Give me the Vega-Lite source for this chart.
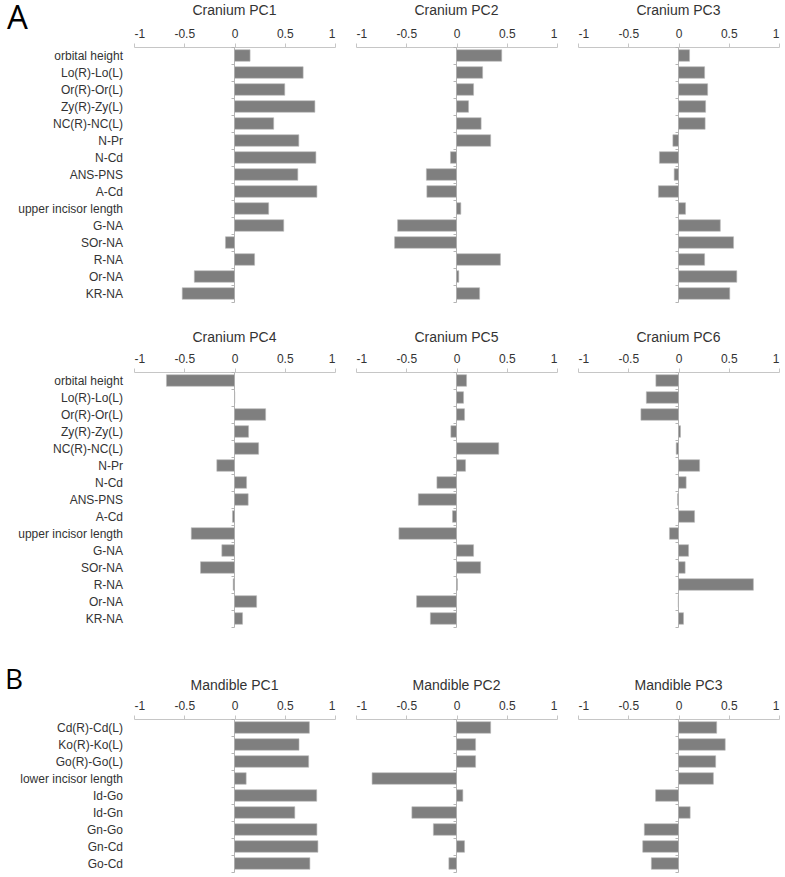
{
  "$schema": "https://vega.github.io/schema/vega-lite/v6.json",
  "padding": 0,
  "background": "white",
  "config": {
    "view": {"stroke": null},
    "title": {"font": "Liberation Sans", "fontSize": 14, "fontWeight": "normal", "color": "#333333", "anchor": "middle", "frame": "group"},
    "style": {"group-title": {"font": "Liberation Sans", "fontSize": 14, "fontWeight": "normal", "fill": "#333333"}},
    "bar": {"fill": "#7f7f7f", "stroke": "#b8b8b8", "strokeWidth": 0.6},
    "axis": {"grid": false}
  },
  "datasets": {
    "c1": [
      {"measure": "orbital height", "loading": 0.155}, {"measure": "Lo(R)-Lo(L)", "loading": 0.683}, {"measure": "Or(R)-Or(L)", "loading": 0.50},
      {"measure": "Zy(R)-Zy(L)", "loading": 0.80}, {"measure": "NC(R)-NC(L)", "loading": 0.39}, {"measure": "N-Pr", "loading": 0.64},
      {"measure": "N-Cd", "loading": 0.81}, {"measure": "ANS-PNS", "loading": 0.63}, {"measure": "A-Cd", "loading": 0.82},
      {"measure": "upper incisor length", "loading": 0.34}, {"measure": "G-NA", "loading": 0.49}, {"measure": "SOr-NA", "loading": -0.09},
      {"measure": "R-NA", "loading": 0.20}, {"measure": "Or-NA", "loading": -0.40}, {"measure": "KR-NA", "loading": -0.52}
    ],
    "c2": [
      {"measure": "orbital height", "loading": 0.45}, {"measure": "Lo(R)-Lo(L)", "loading": 0.26}, {"measure": "Or(R)-Or(L)", "loading": 0.17},
      {"measure": "Zy(R)-Zy(L)", "loading": 0.12}, {"measure": "NC(R)-NC(L)", "loading": 0.245}, {"measure": "N-Pr", "loading": 0.34},
      {"measure": "N-Cd", "loading": -0.06}, {"measure": "ANS-PNS", "loading": -0.30}, {"measure": "A-Cd", "loading": -0.295},
      {"measure": "upper incisor length", "loading": 0.043}, {"measure": "G-NA", "loading": -0.586}, {"measure": "SOr-NA", "loading": -0.616},
      {"measure": "R-NA", "loading": 0.437}, {"measure": "Or-NA", "loading": 0.023}, {"measure": "KR-NA", "loading": 0.23}
    ],
    "c3": [
      {"measure": "orbital height", "loading": 0.11}, {"measure": "Lo(R)-Lo(L)", "loading": 0.26}, {"measure": "Or(R)-Or(L)", "loading": 0.29},
      {"measure": "Zy(R)-Zy(L)", "loading": 0.27}, {"measure": "NC(R)-NC(L)", "loading": 0.265}, {"measure": "N-Pr", "loading": -0.056},
      {"measure": "N-Cd", "loading": -0.19}, {"measure": "ANS-PNS", "loading": -0.043}, {"measure": "A-Cd", "loading": -0.20},
      {"measure": "upper incisor length", "loading": 0.07}, {"measure": "G-NA", "loading": 0.416}, {"measure": "SOr-NA", "loading": 0.548},
      {"measure": "R-NA", "loading": 0.26}, {"measure": "Or-NA", "loading": 0.58}, {"measure": "KR-NA", "loading": 0.51}
    ],
    "c4": [
      {"measure": "orbital height", "loading": -0.677}, {"measure": "Lo(R)-Lo(L)", "loading": 0.003}, {"measure": "Or(R)-Or(L)", "loading": 0.31},
      {"measure": "Zy(R)-Zy(L)", "loading": 0.14}, {"measure": "NC(R)-NC(L)", "loading": 0.24}, {"measure": "N-Pr", "loading": -0.176},
      {"measure": "N-Cd", "loading": 0.12}, {"measure": "ANS-PNS", "loading": 0.136}, {"measure": "A-Cd", "loading": -0.02},
      {"measure": "upper incisor length", "loading": -0.43}, {"measure": "G-NA", "loading": -0.126}, {"measure": "SOr-NA", "loading": -0.338},
      {"measure": "R-NA", "loading": -0.013}, {"measure": "Or-NA", "loading": 0.22}, {"measure": "KR-NA", "loading": 0.08}
    ],
    "c5": [
      {"measure": "orbital height", "loading": 0.10}, {"measure": "Lo(R)-Lo(L)", "loading": 0.07}, {"measure": "Or(R)-Or(L)", "loading": 0.08},
      {"measure": "Zy(R)-Zy(L)", "loading": -0.056}, {"measure": "NC(R)-NC(L)", "loading": 0.42}, {"measure": "N-Pr", "loading": 0.09},
      {"measure": "N-Cd", "loading": -0.195}, {"measure": "ANS-PNS", "loading": -0.38}, {"measure": "A-Cd", "loading": -0.04},
      {"measure": "upper incisor length", "loading": -0.573}, {"measure": "G-NA", "loading": 0.17}, {"measure": "SOr-NA", "loading": 0.24},
      {"measure": "R-NA", "loading": 0.01}, {"measure": "Or-NA", "loading": -0.397}, {"measure": "KR-NA", "loading": -0.26}
    ],
    "c6": [
      {"measure": "orbital height", "loading": -0.225}, {"measure": "Lo(R)-Lo(L)", "loading": -0.32}, {"measure": "Or(R)-Or(L)", "loading": -0.374},
      {"measure": "Zy(R)-Zy(L)", "loading": 0.02}, {"measure": "NC(R)-NC(L)", "loading": -0.023}, {"measure": "N-Pr", "loading": 0.21},
      {"measure": "N-Cd", "loading": 0.076}, {"measure": "ANS-PNS", "loading": -0.01}, {"measure": "A-Cd", "loading": 0.16},
      {"measure": "upper incisor length", "loading": -0.09}, {"measure": "G-NA", "loading": 0.10}, {"measure": "SOr-NA", "loading": 0.066},
      {"measure": "R-NA", "loading": 0.745}, {"measure": "Or-NA", "loading": -0.003}, {"measure": "KR-NA", "loading": 0.05}
    ],
    "m1": [
      {"measure": "Cd(R)-Cd(L)", "loading": 0.745}, {"measure": "Ko(R)-Ko(L)", "loading": 0.642}, {"measure": "Go(R)-Go(L)", "loading": 0.738},
      {"measure": "lower incisor length", "loading": 0.116}, {"measure": "Id-Go", "loading": 0.818}, {"measure": "Id-Gn", "loading": 0.60},
      {"measure": "Gn-Go", "loading": 0.82}, {"measure": "Gn-Cd", "loading": 0.83}, {"measure": "Go-Cd", "loading": 0.75}
    ],
    "m2": [
      {"measure": "Cd(R)-Cd(L)", "loading": 0.34}, {"measure": "Ko(R)-Ko(L)", "loading": 0.19}, {"measure": "Go(R)-Go(L)", "loading": 0.19},
      {"measure": "lower incisor length", "loading": -0.84}, {"measure": "Id-Go", "loading": 0.063}, {"measure": "Id-Gn", "loading": -0.444},
      {"measure": "Gn-Go", "loading": -0.23}, {"measure": "Gn-Cd", "loading": 0.08}, {"measure": "Go-Cd", "loading": -0.076}
    ],
    "m3": [
      {"measure": "Cd(R)-Cd(L)", "loading": 0.38}, {"measure": "Ko(R)-Ko(L)", "loading": 0.465}, {"measure": "Go(R)-Go(L)", "loading": 0.37},
      {"measure": "lower incisor length", "loading": 0.347}, {"measure": "Id-Go", "loading": -0.228}, {"measure": "Id-Gn", "loading": 0.116},
      {"measure": "Gn-Go", "loading": -0.34}, {"measure": "Gn-Cd", "loading": -0.356}, {"measure": "Go-Cd", "loading": -0.27}
    ]
  },
  "vconcat": [
    {
      "hconcat": [
        {
          "width": 201, "height": 255, "data": {"name": "c1"},
          "title": {"text": "Cranium PC1", "offset": -18, "fontWeight": "normal", "fontSize": 14, "font": "Liberation Sans", "color": "#333333"},
          "mark": {"type": "bar", "height": {"band": 0.68}},
          "encoding": {
            "x": {"field": "loading", "type": "quantitative", "scale": {"domain": [-1, 1], "nice": false, "zero": false},
              "axis": {"orient": "top", "title": null, "values": [-1, -0.5, 0, 0.5, 1], "labelExpr": "'' + datum.value", "minExtent": 47, "maxExtent": 47, "domainColor": "#c6c6c6", "tickColor": "#c6c6c6", "tickSize": 4, "labelPadding": 3, "labelFont": "Liberation Sans", "labelFontSize": 12, "labelColor": "#333333"}},
            "y": {"field": "measure", "type": "nominal", "sort": null, "scale": {"paddingInner": 0, "paddingOuter": 0},
              "axis": {"title": "A", "titleAngle": 0, "titleAlign": "left", "titleBaseline": "alphabetic", "titleX": -227.5, "titleY": -18.7, "titleFont": "Open Sans", "titleFontSize": 33, "titleFontWeight": "normal", "titleColor": "#000000", "offset": -100, "minExtent": 233.5, "maxExtent": 233.5, "domainColor": "#b4b4b4", "tickColor": "#b4b4b4", "tickSize": 3, "tickBand": "extent", "labelPadding": 108.5, "labelFont": "Liberation Sans", "labelFontSize": 12, "labelColor": "#333333"}}
          }
        },
        {
          "width": 201, "height": 255, "data": {"name": "c2"},
          "title": {"text": "Cranium PC2", "offset": -18, "fontWeight": "normal", "fontSize": 14, "font": "Liberation Sans", "color": "#333333"},
          "mark": {"type": "bar", "height": {"band": 0.68}},
          "encoding": {
            "x": {"field": "loading", "type": "quantitative", "scale": {"domain": [-1, 1], "nice": false, "zero": false},
              "axis": {"orient": "top", "title": null, "values": [-1, -0.5, 0, 0.5, 1], "labelExpr": "'' + datum.value", "minExtent": 47, "maxExtent": 47, "domainColor": "#c6c6c6", "tickColor": "#c6c6c6", "tickSize": 4, "labelPadding": 3, "labelFont": "Liberation Sans", "labelFontSize": 12, "labelColor": "#333333"}},
            "y": {"field": "measure", "type": "nominal", "sort": null, "scale": {"paddingInner": 0, "paddingOuter": 0},
              "axis": {"title": null, "labels": false, "offset": -100, "minExtent": 0, "maxExtent": 10, "domainColor": "#b4b4b4", "tickColor": "#b4b4b4", "tickSize": 3, "tickBand": "extent"}}
          }
        },
        {
          "width": 201, "height": 255, "data": {"name": "c3"},
          "title": {"text": "Cranium PC3", "offset": -18, "fontWeight": "normal", "fontSize": 14, "font": "Liberation Sans", "color": "#333333"},
          "mark": {"type": "bar", "height": {"band": 0.68}},
          "encoding": {
            "x": {"field": "loading", "type": "quantitative", "scale": {"domain": [-1, 1], "nice": false, "zero": false},
              "axis": {"orient": "top", "title": null, "values": [-1, -0.5, 0, 0.5, 1], "labelExpr": "'' + datum.value", "minExtent": 47, "maxExtent": 47, "domainColor": "#c6c6c6", "tickColor": "#c6c6c6", "tickSize": 4, "labelPadding": 3, "labelFont": "Liberation Sans", "labelFontSize": 12, "labelColor": "#333333"}},
            "y": {"field": "measure", "type": "nominal", "sort": null, "scale": {"paddingInner": 0, "paddingOuter": 0},
              "axis": {"title": null, "labels": false, "offset": -100, "minExtent": 0, "maxExtent": 10, "domainColor": "#b4b4b4", "tickColor": "#b4b4b4", "tickSize": 3, "tickBand": "extent"}}
          }
        }
      ],
      "spacing": 21, "bounds": "flush"
    },
    {
      "hconcat": [
        {
          "width": 201, "height": 255, "data": {"name": "c4"},
          "title": {"text": "Cranium PC4", "offset": -31.7, "fontWeight": "normal", "fontSize": 14, "font": "Liberation Sans", "color": "#333333"},
          "mark": {"type": "bar", "height": {"band": 0.68}},
          "encoding": {
            "x": {"field": "loading", "type": "quantitative", "scale": {"domain": [-1, 1], "nice": false, "zero": false},
              "axis": {"orient": "top", "title": null, "values": [-1, -0.5, 0, 0.5, 1], "labelExpr": "'' + datum.value", "minExtent": 59, "maxExtent": 59, "domainColor": "#c6c6c6", "tickColor": "#c6c6c6", "tickSize": 4, "labelPadding": 3, "labelFont": "Liberation Sans", "labelFontSize": 12, "labelColor": "#333333"}},
            "y": {"field": "measure", "type": "nominal", "sort": null, "scale": {"paddingInner": 0, "paddingOuter": 0},
              "axis": {"title": null, "offset": -100, "minExtent": 233.5, "maxExtent": 233.5, "domainColor": "#b4b4b4", "tickColor": "#b4b4b4", "tickSize": 3, "tickBand": "extent", "labelPadding": 108.5, "labelFont": "Liberation Sans", "labelFontSize": 12, "labelColor": "#333333"}}
          }
        },
        {
          "width": 201, "height": 255, "data": {"name": "c5"},
          "title": {"text": "Cranium PC5", "offset": -31.7, "fontWeight": "normal", "fontSize": 14, "font": "Liberation Sans", "color": "#333333"},
          "mark": {"type": "bar", "height": {"band": 0.68}},
          "encoding": {
            "x": {"field": "loading", "type": "quantitative", "scale": {"domain": [-1, 1], "nice": false, "zero": false},
              "axis": {"orient": "top", "title": null, "values": [-1, -0.5, 0, 0.5, 1], "labelExpr": "'' + datum.value", "minExtent": 59, "maxExtent": 59, "domainColor": "#c6c6c6", "tickColor": "#c6c6c6", "tickSize": 4, "labelPadding": 3, "labelFont": "Liberation Sans", "labelFontSize": 12, "labelColor": "#333333"}},
            "y": {"field": "measure", "type": "nominal", "sort": null, "scale": {"paddingInner": 0, "paddingOuter": 0},
              "axis": {"title": null, "labels": false, "offset": -100, "minExtent": 0, "maxExtent": 10, "domainColor": "#b4b4b4", "tickColor": "#b4b4b4", "tickSize": 3, "tickBand": "extent"}}
          }
        },
        {
          "width": 201, "height": 255, "data": {"name": "c6"},
          "title": {"text": "Cranium PC6", "offset": -31.7, "fontWeight": "normal", "fontSize": 14, "font": "Liberation Sans", "color": "#333333"},
          "mark": {"type": "bar", "height": {"band": 0.68}},
          "encoding": {
            "x": {"field": "loading", "type": "quantitative", "scale": {"domain": [-1, 1], "nice": false, "zero": false},
              "axis": {"orient": "top", "title": null, "values": [-1, -0.5, 0, 0.5, 1], "labelExpr": "'' + datum.value", "minExtent": 59, "maxExtent": 59, "domainColor": "#c6c6c6", "tickColor": "#c6c6c6", "tickSize": 4, "labelPadding": 3, "labelFont": "Liberation Sans", "labelFontSize": 12, "labelColor": "#333333"}},
            "y": {"field": "measure", "type": "nominal", "sort": null, "scale": {"paddingInner": 0, "paddingOuter": 0},
              "axis": {"title": null, "labels": false, "offset": -100, "minExtent": 0, "maxExtent": 10, "domainColor": "#b4b4b4", "tickColor": "#b4b4b4", "tickSize": 3, "tickBand": "extent"}}
          }
        }
      ],
      "spacing": 21, "bounds": "flush"
    },
    {
      "hconcat": [
        {
          "width": 201, "height": 153, "data": {"name": "m1"},
          "title": {"text": "Mandible PC1", "offset": -55, "fontWeight": "normal", "fontSize": 14, "font": "Liberation Sans", "color": "#333333"},
          "mark": {"type": "bar", "height": {"band": 0.68}},
          "encoding": {
            "x": {"field": "loading", "type": "quantitative", "scale": {"domain": [-1, 1], "nice": false, "zero": false},
              "axis": {"orient": "top", "title": null, "values": [-1, -0.5, 0, 0.5, 1], "labelExpr": "'' + datum.value", "minExtent": 81, "maxExtent": 81, "domainColor": "#c6c6c6", "tickColor": "#c6c6c6", "tickSize": 4, "labelPadding": 3, "labelFont": "Liberation Sans", "labelFontSize": 12, "labelColor": "#333333"}},
            "y": {"field": "measure", "type": "nominal", "sort": null, "scale": {"paddingInner": 0, "paddingOuter": 0},
              "axis": {"title": "B", "titleAngle": 0, "titleAlign": "left", "titleBaseline": "alphabetic", "titleX": -229.5, "titleY": -30.7, "titleFont": "Open Sans", "titleFontSize": 28, "titleFontWeight": "normal", "titleColor": "#000000", "offset": -100, "minExtent": 233.5, "maxExtent": 233.5, "domainColor": "#b4b4b4", "tickColor": "#b4b4b4", "tickSize": 3, "tickBand": "extent", "labelPadding": 108.5, "labelFont": "Liberation Sans", "labelFontSize": 12, "labelColor": "#333333"}}
          }
        },
        {
          "width": 201, "height": 153, "data": {"name": "m2"},
          "title": {"text": "Mandible PC2", "offset": -55, "fontWeight": "normal", "fontSize": 14, "font": "Liberation Sans", "color": "#333333"},
          "mark": {"type": "bar", "height": {"band": 0.68}},
          "encoding": {
            "x": {"field": "loading", "type": "quantitative", "scale": {"domain": [-1, 1], "nice": false, "zero": false},
              "axis": {"orient": "top", "title": null, "values": [-1, -0.5, 0, 0.5, 1], "labelExpr": "'' + datum.value", "minExtent": 81, "maxExtent": 81, "domainColor": "#c6c6c6", "tickColor": "#c6c6c6", "tickSize": 4, "labelPadding": 3, "labelFont": "Liberation Sans", "labelFontSize": 12, "labelColor": "#333333"}},
            "y": {"field": "measure", "type": "nominal", "sort": null, "scale": {"paddingInner": 0, "paddingOuter": 0},
              "axis": {"title": null, "labels": false, "offset": -100, "minExtent": 0, "maxExtent": 10, "domainColor": "#b4b4b4", "tickColor": "#b4b4b4", "tickSize": 3, "tickBand": "extent"}}
          }
        },
        {
          "width": 201, "height": 153, "data": {"name": "m3"},
          "title": {"text": "Mandible PC3", "offset": -55, "fontWeight": "normal", "fontSize": 14, "font": "Liberation Sans", "color": "#333333"},
          "mark": {"type": "bar", "height": {"band": 0.68}},
          "encoding": {
            "x": {"field": "loading", "type": "quantitative", "scale": {"domain": [-1, 1], "nice": false, "zero": false},
              "axis": {"orient": "top", "title": null, "values": [-1, -0.5, 0, 0.5, 1], "labelExpr": "'' + datum.value", "minExtent": 81, "maxExtent": 81, "domainColor": "#c6c6c6", "tickColor": "#c6c6c6", "tickSize": 4, "labelPadding": 3, "labelFont": "Liberation Sans", "labelFontSize": 12, "labelColor": "#333333"}},
            "y": {"field": "measure", "type": "nominal", "sort": null, "scale": {"paddingInner": 0, "paddingOuter": 0},
              "axis": {"title": null, "labels": false, "offset": -100, "minExtent": 0, "maxExtent": 10, "domainColor": "#b4b4b4", "tickColor": "#b4b4b4", "tickSize": 3, "tickBand": "extent"}}
          }
        }
      ],
      "spacing": 21, "bounds": "flush"
    }
  ],
  "spacing": 10
}
